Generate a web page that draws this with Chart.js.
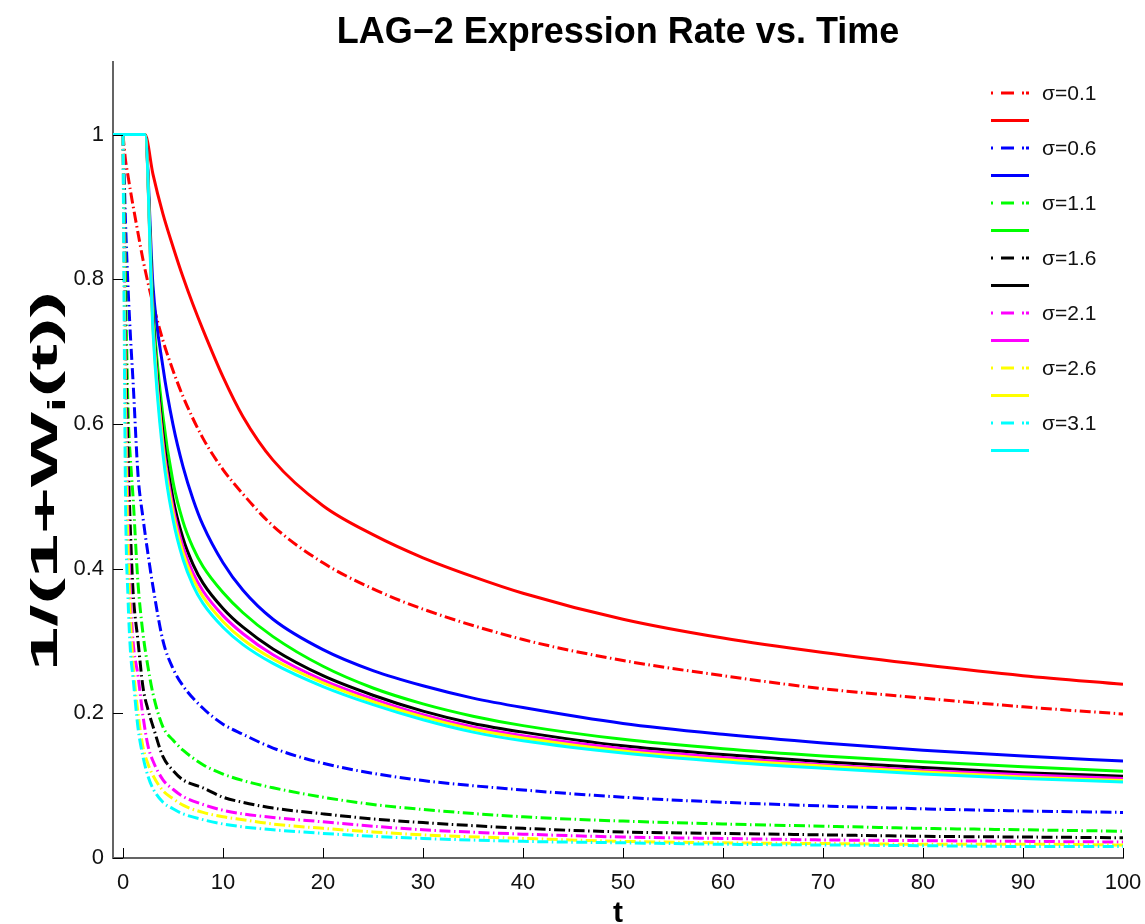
<!DOCTYPE html>
<html>
<head>
<meta charset="utf-8">
<script src="https://cdn.jsdelivr.net/npm/chart.js@4"></script>
<style>
  html, body { margin: 0; padding: 0; background: #fff; }
  canvas { display: block; }
</style>
</head>
<body>
<canvas id="chart" width="1145" height="924"></canvas>
<script>
// time grids (t) for the two families of curves
const T_SOLID = [-1, 2.2, 3, 4, 5, 6, 7, 8, 10, 12, 15, 20, 25, 30, 35, 40, 50, 60, 70, 80, 90, 100];
const T_DASH = [0, 0.25, 0.5, 0.75, 1, 1.5, 2, 2.5, 3, 4, 5, 6, 8, 10, 12, 15, 20, 25, 30, 40, 50, 60, 70, 80, 90, 100];

const SIGMA_LABELS = ["σ=0.1", "σ=0.6", "σ=1.1", "σ=1.6", "σ=2.1", "σ=2.6", "σ=3.1"];
const COLORS = ["#ff0000", "#0000ff", "#00ff00", "#000000", "#ff00ff", "#ffff00", "#00ffff"];

const X_TICKS = [0, 10, 20, 30, 40, 50, 60, 70, 80, 90, 100];
const Y_TICKS = [0, 0.2, 0.4, 0.6, 0.8, 1];

// dash-dot curves, one per sigma
const dash01 = [1, 0.965, 0.943, 0.922, 0.902, 0.864, 0.827, 0.795, 0.766, 0.715, 0.674, 0.638, 0.58, 0.537, 0.503, 0.459, 0.408, 0.372, 0.344, 0.302, 0.273, 0.252, 0.234, 0.221, 0.209, 0.199];
const dash06 = [1, 0.88, 0.79, 0.72, 0.66, 0.53, 0.47, 0.42, 0.375, 0.3, 0.262, 0.238, 0.207, 0.185, 0.171, 0.152, 0.131, 0.117, 0.107, 0.094, 0.084, 0.077, 0.072, 0.068, 0.065, 0.063];
const dash11 = [1, 0.8, 0.62, 0.55, 0.5, 0.38, 0.31, 0.264, 0.227, 0.181, 0.163, 0.149, 0.129, 0.116, 0.107, 0.097, 0.084, 0.074, 0.067, 0.057, 0.051, 0.047, 0.044, 0.041, 0.039, 0.037];
const dash16 = [1, 0.72, 0.56, 0.45, 0.37, 0.3, 0.236, 0.205, 0.182, 0.14, 0.121, 0.108, 0.097, 0.084, 0.077, 0.069, 0.061, 0.054, 0.049, 0.041, 0.036, 0.034, 0.032, 0.030, 0.029, 0.028];
const dash21 = [1, 0.66, 0.47, 0.36, 0.3, 0.252, 0.196, 0.155, 0.134, 0.108, 0.095, 0.085, 0.074, 0.066, 0.061, 0.056, 0.05, 0.044, 0.039, 0.033, 0.029, 0.027, 0.025, 0.024, 0.023, 0.022];
const dash26 = [1, 0.62, 0.43, 0.33, 0.27, 0.2, 0.153, 0.13, 0.114, 0.093, 0.082, 0.073, 0.063, 0.057, 0.053, 0.047, 0.041, 0.036, 0.032, 0.027, 0.023, 0.021, 0.02, 0.019, 0.019, 0.018];
const dash31 = [1, 0.5, 0.36, 0.285, 0.25, 0.18, 0.14, 0.113, 0.096, 0.077, 0.068, 0.061, 0.053, 0.047, 0.043, 0.039, 0.034, 0.03, 0.027, 0.023, 0.021, 0.019, 0.018, 0.017, 0.016, 0.016];

// solid curves, one per sigma
const solid01 = [1, 1, 0.945, 0.89, 0.845, 0.803, 0.765, 0.73, 0.665, 0.61, 0.55, 0.487, 0.447, 0.415, 0.389, 0.366, 0.33, 0.304, 0.284, 0.267, 0.252, 0.24];
const solid06 = [1, 1, 0.791, 0.678, 0.599, 0.541, 0.496, 0.46, 0.408, 0.37, 0.33, 0.288, 0.259, 0.238, 0.221, 0.208, 0.186, 0.171, 0.159, 0.149, 0.141, 0.134];
const solid11 = [1, 1, 0.76, 0.61, 0.52, 0.465, 0.429, 0.403, 0.367, 0.339, 0.306, 0.265, 0.235, 0.213, 0.196, 0.183, 0.164, 0.151, 0.141, 0.133, 0.126, 0.12];
const solid16 = [1, 1, 0.746, 0.587, 0.497, 0.442, 0.406, 0.38, 0.345, 0.319, 0.289, 0.252, 0.225, 0.203, 0.186, 0.174, 0.155, 0.143, 0.133, 0.125, 0.118, 0.113];
const solid21 = [1, 1, 0.739, 0.575, 0.485, 0.43, 0.394, 0.369, 0.335, 0.31, 0.281, 0.246, 0.22, 0.198, 0.181, 0.169, 0.151, 0.139, 0.129, 0.121, 0.115, 0.11];
const solid26 = [1, 1, 0.733, 0.567, 0.477, 0.422, 0.386, 0.361, 0.327, 0.302, 0.275, 0.242, 0.216, 0.195, 0.178, 0.166, 0.148, 0.136, 0.127, 0.119, 0.112, 0.107];
const solid31 = [1, 1, 0.728, 0.558, 0.468, 0.413, 0.377, 0.352, 0.319, 0.295, 0.269, 0.237, 0.212, 0.191, 0.174, 0.162, 0.145, 0.133, 0.124, 0.116, 0.11, 0.105];

const DASH_SERIES = [dash01, dash06, dash11, dash16, dash21, dash26, dash31];
const SOLID_SERIES = [solid01, solid06, solid11, solid16, solid21, solid26, solid31];

const DASH_DOT = [11, 3.5, 1.5, 3.5];

function toPoints(ts, ys) {
  return ts.map((t, i) => ({ x: t, y: ys[i] }));
}

let datasets = [];
SIGMA_LABELS.forEach((label, i) => {
  datasets.push({
    label: label,
    data: toPoints(T_DASH, DASH_SERIES[i]),
    borderColor: COLORS[i],
    borderWidth: 3,
    borderDash: DASH_DOT,
  });
  datasets.push({
    label: "",
    data: toPoints(T_SOLID, SOLID_SERIES[i]),
    borderColor: COLORS[i],
    borderWidth: 3,
  });
});
// first dataset in the list is painted last in Chart.js, so flip with order
datasets.forEach((ds, i) => { ds.order = datasets.length - i; });

const FONT = "'Liberation Sans', Arial, Helvetica, sans-serif";

// axis ticks pointing inward, axis labels, legend
const decorations = {
  id: "decorations",
  afterDraw(chart) {
    const { ctx, chartArea, scales } = chart;
    ctx.save();
    ctx.strokeStyle = "#000";
    ctx.lineWidth = 1;
    ctx.beginPath();
    X_TICKS.forEach(v => {
      const px = Math.round(scales.x.getPixelForValue(v)) + 0.5;
      ctx.moveTo(px, chartArea.bottom);
      ctx.lineTo(px, chartArea.bottom - 10);
    });
    Y_TICKS.forEach(v => {
      const py = Math.round(scales.y.getPixelForValue(v)) + 0.5;
      ctx.moveTo(chartArea.left, py);
      ctx.lineTo(chartArea.left + 10, py);
    });
    ctx.stroke();

    // y axis label with subscript (drawn long, like the original export)
    ctx.fillStyle = "#000";
    ctx.translate(57, 481);
    ctx.rotate(-Math.PI / 2);
    const big = "bold 36px " + FONT, small = "bold 24px " + FONT;
    ctx.font = big;
    const w1 = ctx.measureText("1/(1+W").width;
    const w3 = ctx.measureText("(t))").width;
    ctx.font = small;
    const w2 = ctx.measureText("i").width;
    const total = w1 + w2 + w3;
    ctx.scale(380 / total, 1);
    let x0 = -total / 2;
    ctx.textBaseline = "alphabetic";
    ctx.textAlign = "left";
    ctx.font = big;
    ctx.fillText("1/(1+W", x0, 0);
    ctx.font = small;
    ctx.fillText("i", x0 + w1, 8);
    ctx.font = big;
    ctx.fillText("(t))", x0 + w1 + w2, 0);
    ctx.restore();

    // x axis label
    ctx.save();
    ctx.fillStyle = "#000";
    ctx.font = "bold 30px " + FONT;
    ctx.textAlign = "center";
    ctx.textBaseline = "alphabetic";
    ctx.fillText("t", (chartArea.left + chartArea.right) / 2, 922);
    ctx.restore();

    // legend
    ctx.save();
    ctx.font = "21px " + FONT;
    ctx.textBaseline = "middle";
    ctx.fillStyle = "#111";
    chart.data.datasets.forEach((ds, i) => {
      const y = 93 + i * 27.5;
      ctx.strokeStyle = ds.borderColor;
      ctx.lineWidth = 3;
      ctx.setLineDash(ds.borderDash ? [2, 8, 13, 8, 2] : []);
      ctx.beginPath();
      ctx.moveTo(991, y);
      ctx.lineTo(1029, y);
      ctx.stroke();
      if (ds.label) ctx.fillText(ds.label, 1042, y + 1);
    });
    ctx.restore();
  }
};

new Chart(document.getElementById("chart"), {
  type: "line",
  data: { datasets: datasets },
  plugins: [decorations],
  options: {
    responsive: false,
    animation: false,
    layout: { padding: { left: 0, right: 22, top: 0, bottom: 0 } },
    elements: {
      point: { radius: 0, hoverRadius: 0 },
      line: { cubicInterpolationMode: "monotone", fill: false, borderCapStyle: "butt" }
    },
    plugins: {
      legend: { display: false },
      tooltip: { enabled: false },
      title: {
        display: true,
        fullSize: false,
        text: "LAG−2 Expression Rate vs. Time",
        color: "#000",
        font: { family: FONT, size: 36, weight: "bold", lineHeight: 1.2 },
        padding: { top: 11, bottom: 8 }
      }
    },
    scales: {
      x: {
        type: "linear",
        min: -1,
        max: 100,
        afterBuildTicks: s => { s.ticks = X_TICKS.map(v => ({ value: v })); },
        afterFit: s => { s.height = 924 - 858; s.paddingLeft = 0; s.paddingRight = 0; },
        grid: { display: false, drawTicks: false },
        border: { display: true, color: "#646464", width: 2 },
        ticks: {
          color: "#111",
          padding: 12,
          maxRotation: 0,
          font: { family: FONT, size: 22 },
          callback: v => String(v)
        }
      },
      y: {
        type: "linear",
        min: 0,
        max: 1.1,
        afterBuildTicks: s => { s.ticks = Y_TICKS.map(v => ({ value: v })); },
        afterFit: s => { s.width = 113; },
        grid: { display: false, drawTicks: false },
        border: { display: true, color: "#646464", width: 2 },
        ticks: {
          color: "#111",
          padding: 9,
          font: { family: FONT, size: 22 },
          callback: v => String(Math.round(v * 10) / 10)
        }
      }
    }
  }
});
</script>
</body>
</html>
